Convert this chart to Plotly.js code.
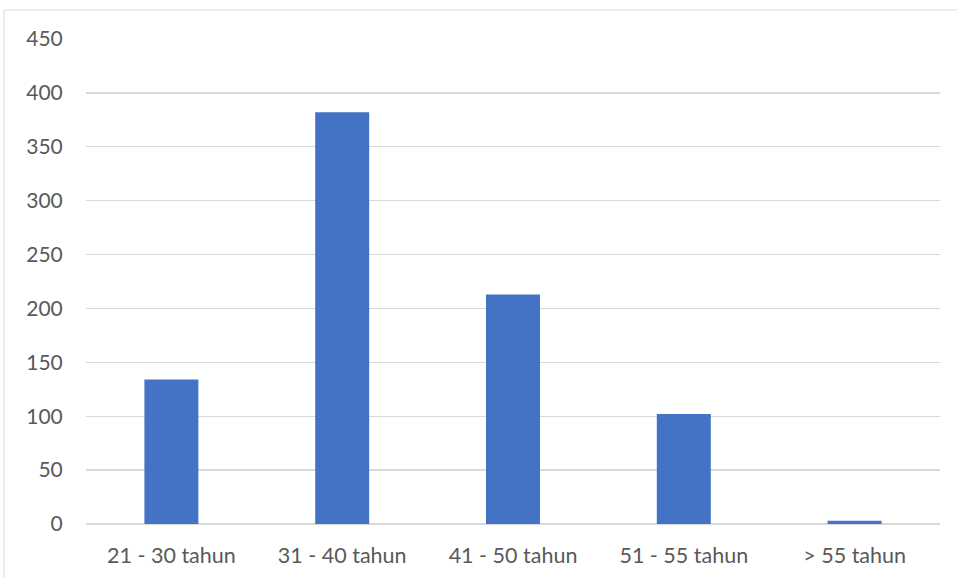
<!DOCTYPE html>
<html>
<head>
<meta charset="utf-8">
<script src="https://cdn.plot.ly/plotly-3.0.1.min.js"></script>
<style>
html,body{margin:0;padding:0;background:#fff;}
#chart{width:957px;height:578px;}
</style>
</head>
<body>
<div id="chart"></div>
<script>
const categories = ["21 - 30 tahun", "31 - 40 tahun", "41 - 50 tahun", "51 - 55 tahun", "> 55 tahun"];
const values = [134, 382, 213, 102, 3];
const yTicks = [0, 50, 100, 150, 200, 250, 300, 350, 400, 450];

const trace = {
  type: 'bar',
  x: categories,
  y: values,
  marker: {color: '#4472C4'},
  width: 0.316,
  hoverinfo: 'x+y'
};

const layout = {
  width: 957,
  height: 578,
  margin: {l: 86, r: 17, t: 39, b: 54},
  paper_bgcolor: '#ffffff',
  plot_bgcolor: '#ffffff',
  showlegend: false,
  font: {family: 'Lato, "Liberation Sans", sans-serif', size: 21, color: '#595959'},
  xaxis: {
    type: 'category',
    showgrid: false,
    showline: false,
    zeroline: false,
    ticks: 'outside',
    ticklen: 12,
    tickcolor: 'rgba(0,0,0,0)',
    tickfont: {size: 21.5, color: '#595959'}
  },
  yaxis: {
    range: [0, 450],
    tickvals: yTicks,
    ticktext: yTicks.map(String),
    showgrid: true,
    gridcolor: '#d9d9d9',
    gridwidth: 1.4,
    zeroline: true,
    zerolinecolor: '#d9d9d9',
    zerolinewidth: 1.4,
    showline: false,
    ticks: 'outside',
    ticklen: 18,
    tickcolor: 'rgba(0,0,0,0)',
    tickfont: {size: 21, color: '#595959'}
  },
  shapes: [{
    type: 'rect',
    xref: 'paper', yref: 'paper',
    x0: -0.096, x1: 1.2,
    y0: -0.3, y1: 1.0598,
    line: {color: '#d9d9d9', width: 1},
    fillcolor: 'rgba(0,0,0,0)',
    layer: 'below'
  }]
};

Plotly.newPlot('chart', [trace], layout, {displayModeBar: false, staticPlot: true});
</script>
</body>
</html>
